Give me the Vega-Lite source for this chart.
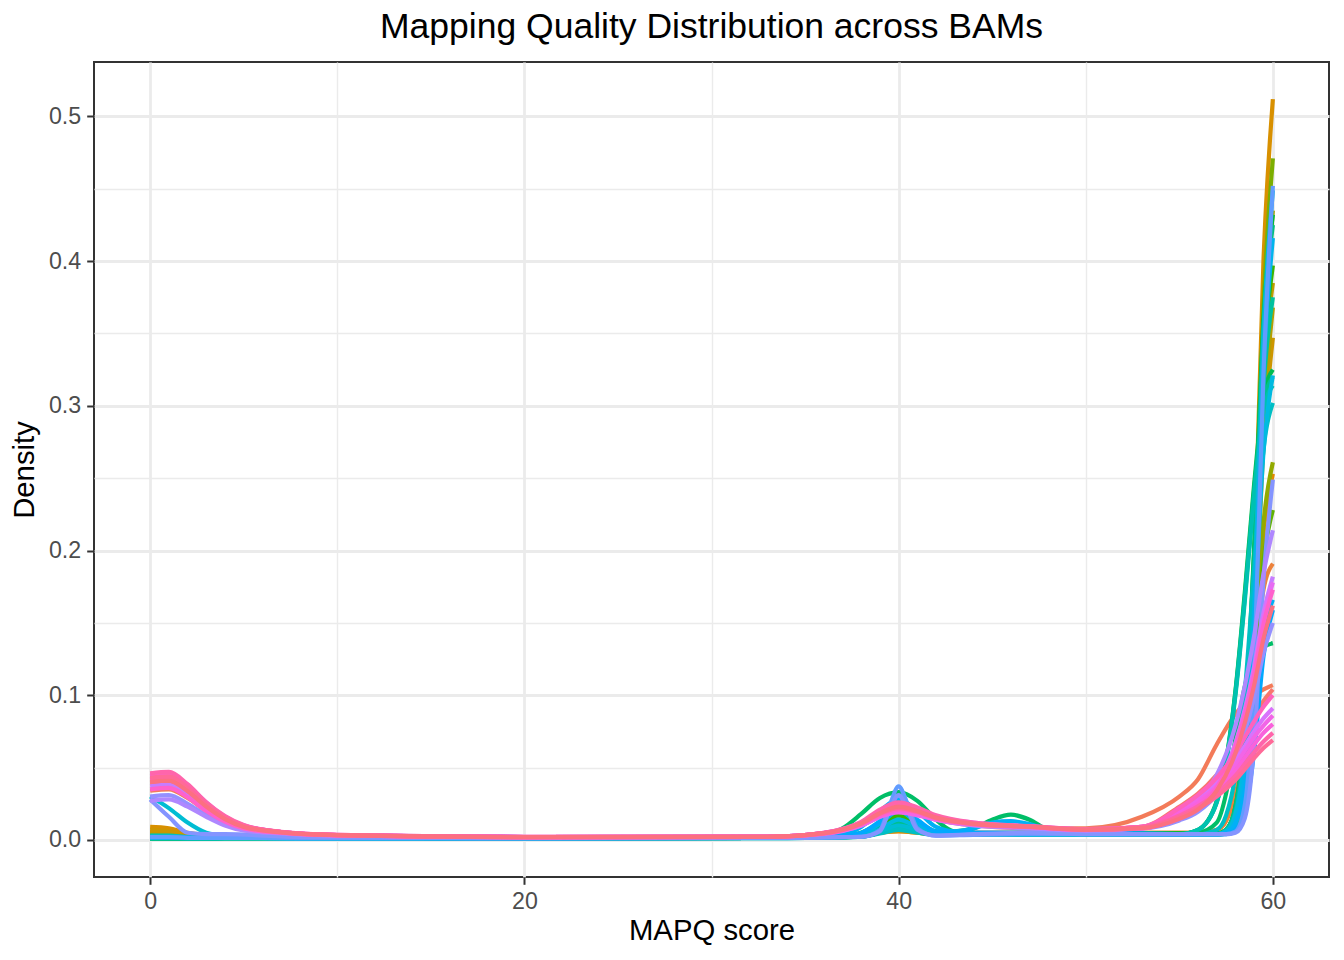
{
  "$schema": "https://vega.github.io/schema/vega-lite/v6.json",
  "width": 1235,
  "height": 815,
  "autosize": {"type": "none"},
  "padding": {"left": 94, "top": 62, "right": 15, "bottom": 83},
  "background": "white",
  "title": {
    "text": "Mapping Quality Distribution across BAMs",
    "font": "Liberation Sans",
    "fontSize": 35.5,
    "fontWeight": "normal",
    "color": "black",
    "anchor": "middle",
    "frame": "group",
    "baseline": "alphabetic",
    "offset": -11
  },
  "config": {
    "font": "Liberation Sans",
    "view": {"stroke": "#333333", "strokeWidth": 2}
  },
  "data": {
    "values": [
      {"s":"B01","x":0,"y":0.039},{"s":"B01","x":1,"y":0.04},{"s":"B01","x":2,"y":0.033},{"s":"B01","x":3,"y":0.022},{"s":"B01","x":4,"y":0.014},{"s":"B01","x":5,"y":0.009},{"s":"B01","x":7,"y":0.005},{"s":"B01","x":10,"y":0.0032},{"s":"B01","x":20,"y":0.002},{"s":"B01","x":33,"y":0.0022},{"s":"B01","x":36,"y":0.0045},{"s":"B01","x":38,"y":0.011},{"s":"B01","x":39,"y":0.018},{"s":"B01","x":40,"y":0.022},{"s":"B01","x":41,"y":0.019},{"s":"B01","x":42,"y":0.015},{"s":"B01","x":44,"y":0.011},{"s":"B01","x":47,"y":0.009},{"s":"B01","x":50,"y":0.007},{"s":"B01","x":53,"y":0.009},{"s":"B01","x":55,"y":0.023},{"s":"B01","x":56,"y":0.032},{"s":"B01","x":57,"y":0.045},{"s":"B01","x":58,"y":0.062},{"s":"B01","x":59,"y":0.085},{"s":"B01","x":59.5,"y":0.096},{"s":"B01","x":60,"y":0.104},

      {"s":"B02","x":0,"y":0.034},{"s":"B02","x":1,"y":0.035},{"s":"B02","x":2,"y":0.029},{"s":"B02","x":3,"y":0.02},{"s":"B02","x":4,"y":0.012},{"s":"B02","x":5,"y":0.008},{"s":"B02","x":7,"y":0.005},{"s":"B02","x":10,"y":0.003},{"s":"B02","x":20,"y":0.002},{"s":"B02","x":33,"y":0.002},{"s":"B02","x":36,"y":0.004},{"s":"B02","x":38,"y":0.01},{"s":"B02","x":39,"y":0.016},{"s":"B02","x":40,"y":0.02},{"s":"B02","x":41,"y":0.018},{"s":"B02","x":42,"y":0.014},{"s":"B02","x":44,"y":0.01},{"s":"B02","x":47,"y":0.008},{"s":"B02","x":50,"y":0.008},{"s":"B02","x":53,"y":0.016},{"s":"B02","x":55,"y":0.03},{"s":"B02","x":56,"y":0.042},{"s":"B02","x":57,"y":0.066},{"s":"B02","x":58,"y":0.087},{"s":"B02","x":59,"y":0.1},{"s":"B02","x":59.5,"y":0.104},{"s":"B02","x":60,"y":0.107},

      {"s":"B03","x":0,"y":0.006},{"s":"B03","x":1,"y":0.0055},{"s":"B03","x":2,"y":0.0035},{"s":"B03","x":4,"y":0.0025},{"s":"B03","x":8,"y":0.002},{"s":"B03","x":20,"y":0.0015},{"s":"B03","x":33,"y":0.0015},{"s":"B03","x":37,"y":0.003},{"s":"B03","x":38,"y":0.004},{"s":"B03","x":39,"y":0.005},{"s":"B03","x":40,"y":0.006},{"s":"B03","x":41,"y":0.006},{"s":"B03","x":42,"y":0.005},{"s":"B03","x":44,"y":0.005},{"s":"B03","x":47,"y":0.005},{"s":"B03","x":50,"y":0.005},{"s":"B03","x":55,"y":0.005},{"s":"B03","x":56,"y":0.005},{"s":"B03","x":57,"y":0.007},{"s":"B03","x":57.5,"y":0.013},{"s":"B03","x":58,"y":0.031},{"s":"B03","x":58.5,"y":0.067},{"s":"B03","x":59,"y":0.121},{"s":"B03","x":59.5,"y":0.173},{"s":"B03","x":60,"y":0.191},

      {"s":"B04","x":0,"y":0.005},{"s":"B04","x":1,"y":0.0045},{"s":"B04","x":2,"y":0.003},{"s":"B04","x":4,"y":0.002},{"s":"B04","x":8,"y":0.002},{"s":"B04","x":20,"y":0.0015},{"s":"B04","x":33,"y":0.0015},{"s":"B04","x":37,"y":0.0025},{"s":"B04","x":38,"y":0.003},{"s":"B04","x":39,"y":0.005},{"s":"B04","x":40,"y":0.006},{"s":"B04","x":41,"y":0.005},{"s":"B04","x":42,"y":0.004},{"s":"B04","x":44,"y":0.004},{"s":"B04","x":47,"y":0.004},{"s":"B04","x":50,"y":0.004},{"s":"B04","x":55,"y":0.004},{"s":"B04","x":56,"y":0.004},{"s":"B04","x":57,"y":0.004},{"s":"B04","x":57.5,"y":0.006},{"s":"B04","x":58,"y":0.015},{"s":"B04","x":58.5,"y":0.047},{"s":"B04","x":59,"y":0.12},{"s":"B04","x":59.5,"y":0.212},{"s":"B04","x":60,"y":0.253},

      {"s":"B05","x":0,"y":0.009},{"s":"B05","x":1,"y":0.008},{"s":"B05","x":2,"y":0.005},{"s":"B05","x":4,"y":0.003},{"s":"B05","x":8,"y":0.002},{"s":"B05","x":20,"y":0.0015},{"s":"B05","x":33,"y":0.0015},{"s":"B05","x":37,"y":0.0025},{"s":"B05","x":38,"y":0.003},{"s":"B05","x":39,"y":0.005},{"s":"B05","x":40,"y":0.006},{"s":"B05","x":41,"y":0.005},{"s":"B05","x":42,"y":0.004},{"s":"B05","x":44,"y":0.004},{"s":"B05","x":47,"y":0.004},{"s":"B05","x":50,"y":0.004},{"s":"B05","x":55,"y":0.004},{"s":"B05","x":56,"y":0.004},{"s":"B05","x":57,"y":0.004},{"s":"B05","x":57.5,"y":0.005},{"s":"B05","x":58,"y":0.013},{"s":"B05","x":58.5,"y":0.055},{"s":"B05","x":59,"y":0.188},{"s":"B05","x":59.5,"y":0.401},{"s":"B05","x":60,"y":0.512},

      {"s":"B06","x":0,"y":0.007},{"s":"B06","x":1,"y":0.006},{"s":"B06","x":2,"y":0.004},{"s":"B06","x":4,"y":0.0025},{"s":"B06","x":8,"y":0.002},{"s":"B06","x":20,"y":0.0015},{"s":"B06","x":33,"y":0.0015},{"s":"B06","x":37,"y":0.0025},{"s":"B06","x":38,"y":0.0028},{"s":"B06","x":39,"y":0.005},{"s":"B06","x":40,"y":0.008},{"s":"B06","x":41,"y":0.006},{"s":"B06","x":42,"y":0.004},{"s":"B06","x":44,"y":0.004},{"s":"B06","x":47,"y":0.004},{"s":"B06","x":50,"y":0.004},{"s":"B06","x":55,"y":0.004},{"s":"B06","x":56,"y":0.004},{"s":"B06","x":57,"y":0.004},{"s":"B06","x":57.5,"y":0.005},{"s":"B06","x":58,"y":0.01},{"s":"B06","x":58.5,"y":0.039},{"s":"B06","x":59,"y":0.129},{"s":"B06","x":59.5,"y":0.273},{"s":"B06","x":60,"y":0.347},

      {"s":"B07","x":0,"y":0.004},{"s":"B07","x":1,"y":0.0035},{"s":"B07","x":2,"y":0.0025},{"s":"B07","x":4,"y":0.002},{"s":"B07","x":8,"y":0.002},{"s":"B07","x":20,"y":0.0015},{"s":"B07","x":33,"y":0.0015},{"s":"B07","x":37,"y":0.0022},{"s":"B07","x":38,"y":0.0025},{"s":"B07","x":39,"y":0.006},{"s":"B07","x":40,"y":0.01},{"s":"B07","x":41,"y":0.007},{"s":"B07","x":42,"y":0.004},{"s":"B07","x":44,"y":0.004},{"s":"B07","x":47,"y":0.004},{"s":"B07","x":50,"y":0.004},{"s":"B07","x":55,"y":0.004},{"s":"B07","x":56,"y":0.004},{"s":"B07","x":57,"y":0.004},{"s":"B07","x":57.5,"y":0.007},{"s":"B07","x":58,"y":0.021},{"s":"B07","x":58.5,"y":0.07},{"s":"B07","x":59,"y":0.18},{"s":"B07","x":59.5,"y":0.321},{"s":"B07","x":60,"y":0.385},

      {"s":"B08","x":0,"y":0.003},{"s":"B08","x":1,"y":0.003},{"s":"B08","x":2,"y":0.002},{"s":"B08","x":4,"y":0.002},{"s":"B08","x":8,"y":0.0018},{"s":"B08","x":20,"y":0.0015},{"s":"B08","x":33,"y":0.0015},{"s":"B08","x":37,"y":0.002},{"s":"B08","x":38,"y":0.0025},{"s":"B08","x":39,"y":0.0055},{"s":"B08","x":40,"y":0.009},{"s":"B08","x":41,"y":0.0065},{"s":"B08","x":42,"y":0.0045},{"s":"B08","x":44,"y":0.004},{"s":"B08","x":47,"y":0.004},{"s":"B08","x":50,"y":0.004},{"s":"B08","x":55,"y":0.004},{"s":"B08","x":56,"y":0.004},{"s":"B08","x":57,"y":0.004},{"s":"B08","x":57.5,"y":0.005},{"s":"B08","x":58,"y":0.01},{"s":"B08","x":58.5,"y":0.041},{"s":"B08","x":59,"y":0.136},{"s":"B08","x":59.5,"y":0.289},{"s":"B08","x":60,"y":0.368},

      {"s":"B09","x":0,"y":0.002},{"s":"B09","x":1,"y":0.002},{"s":"B09","x":2,"y":0.0015},{"s":"B09","x":4,"y":0.0015},{"s":"B09","x":8,"y":0.0015},{"s":"B09","x":20,"y":0.0012},{"s":"B09","x":33,"y":0.0015},{"s":"B09","x":37,"y":0.002},{"s":"B09","x":38,"y":0.0025},{"s":"B09","x":39,"y":0.007},{"s":"B09","x":40,"y":0.012},{"s":"B09","x":41,"y":0.008},{"s":"B09","x":42,"y":0.0045},{"s":"B09","x":44,"y":0.004},{"s":"B09","x":47,"y":0.004},{"s":"B09","x":50,"y":0.004},{"s":"B09","x":55,"y":0.004},{"s":"B09","x":56,"y":0.004},{"s":"B09","x":57,"y":0.004},{"s":"B09","x":57.5,"y":0.005},{"s":"B09","x":58,"y":0.011},{"s":"B09","x":58.5,"y":0.048},{"s":"B09","x":59,"y":0.161},{"s":"B09","x":59.5,"y":0.341},{"s":"B09","x":60,"y":0.435},

      {"s":"B10","x":0,"y":0.003},{"s":"B10","x":1,"y":0.0028},{"s":"B10","x":2,"y":0.002},{"s":"B10","x":4,"y":0.0018},{"s":"B10","x":8,"y":0.0017},{"s":"B10","x":20,"y":0.0014},{"s":"B10","x":33,"y":0.0015},{"s":"B10","x":37,"y":0.0022},{"s":"B10","x":38,"y":0.0027},{"s":"B10","x":39,"y":0.006},{"s":"B10","x":40,"y":0.01},{"s":"B10","x":41,"y":0.0072},{"s":"B10","x":42,"y":0.0045},{"s":"B10","x":44,"y":0.0045},{"s":"B10","x":47,"y":0.0045},{"s":"B10","x":50,"y":0.0045},{"s":"B10","x":55,"y":0.0045},{"s":"B10","x":56,"y":0.0045},{"s":"B10","x":57,"y":0.0045},{"s":"B10","x":57.5,"y":0.006},{"s":"B10","x":58,"y":0.016},{"s":"B10","x":58.5,"y":0.049},{"s":"B10","x":59,"y":0.124},{"s":"B10","x":59.5,"y":0.219},{"s":"B10","x":60,"y":0.261},

      {"s":"B11","x":0,"y":0.0025},{"s":"B11","x":1,"y":0.0022},{"s":"B11","x":2,"y":0.0016},{"s":"B11","x":4,"y":0.0015},{"s":"B11","x":8,"y":0.0015},{"s":"B11","x":20,"y":0.0013},{"s":"B11","x":33,"y":0.0014},{"s":"B11","x":37,"y":0.002},{"s":"B11","x":38,"y":0.0023},{"s":"B11","x":39,"y":0.005},{"s":"B11","x":40,"y":0.008},{"s":"B11","x":41,"y":0.006},{"s":"B11","x":42,"y":0.004},{"s":"B11","x":44,"y":0.004},{"s":"B11","x":47,"y":0.004},{"s":"B11","x":50,"y":0.004},{"s":"B11","x":55,"y":0.004},{"s":"B11","x":56,"y":0.004},{"s":"B11","x":57,"y":0.004},{"s":"B11","x":57.5,"y":0.005},{"s":"B11","x":58,"y":0.012},{"s":"B11","x":58.5,"y":0.051},{"s":"B11","x":59,"y":0.174},{"s":"B11","x":59.5,"y":0.369},{"s":"B11","x":60,"y":0.471},

      {"s":"B12","x":0,"y":0.002},{"s":"B12","x":1,"y":0.002},{"s":"B12","x":2,"y":0.0016},{"s":"B12","x":4,"y":0.0015},{"s":"B12","x":8,"y":0.0015},{"s":"B12","x":20,"y":0.0013},{"s":"B12","x":33,"y":0.0015},{"s":"B12","x":37,"y":0.0022},{"s":"B12","x":38,"y":0.003},{"s":"B12","x":39,"y":0.0075},{"s":"B12","x":40,"y":0.014},{"s":"B12","x":41,"y":0.0085},{"s":"B12","x":42,"y":0.0045},{"s":"B12","x":44,"y":0.0045},{"s":"B12","x":47,"y":0.0045},{"s":"B12","x":50,"y":0.0045},{"s":"B12","x":55,"y":0.0045},{"s":"B12","x":56,"y":0.0045},{"s":"B12","x":57,"y":0.0045},{"s":"B12","x":57.5,"y":0.006},{"s":"B12","x":58,"y":0.014},{"s":"B12","x":58.5,"y":0.043},{"s":"B12","x":59,"y":0.108},{"s":"B12","x":59.5,"y":0.192},{"s":"B12","x":60,"y":0.228},

      {"s":"B13","x":0,"y":0.0015},{"s":"B13","x":1,"y":0.0015},{"s":"B13","x":2,"y":0.0014},{"s":"B13","x":4,"y":0.0014},{"s":"B13","x":8,"y":0.0015},{"s":"B13","x":20,"y":0.0013},{"s":"B13","x":33,"y":0.0015},{"s":"B13","x":37,"y":0.0025},{"s":"B13","x":38,"y":0.0035},{"s":"B13","x":39,"y":0.009},{"s":"B13","x":40,"y":0.017},{"s":"B13","x":41,"y":0.01},{"s":"B13","x":42,"y":0.005},{"s":"B13","x":44,"y":0.0045},{"s":"B13","x":47,"y":0.0045},{"s":"B13","x":50,"y":0.0045},{"s":"B13","x":55,"y":0.0045},{"s":"B13","x":56,"y":0.0045},{"s":"B13","x":57,"y":0.0045},{"s":"B13","x":57.5,"y":0.007},{"s":"B13","x":58,"y":0.021},{"s":"B13","x":58.5,"y":0.072},{"s":"B13","x":59,"y":0.186},{"s":"B13","x":59.5,"y":0.331},{"s":"B13","x":60,"y":0.397},

      {"s":"B14","x":0,"y":0.001},{"s":"B14","x":1,"y":0.001},{"s":"B14","x":2,"y":0.001},{"s":"B14","x":4,"y":0.0012},{"s":"B14","x":8,"y":0.0014},{"s":"B14","x":20,"y":0.0013},{"s":"B14","x":33,"y":0.0015},{"s":"B14","x":37,"y":0.003},{"s":"B14","x":38,"y":0.005},{"s":"B14","x":39,"y":0.012},{"s":"B14","x":40,"y":0.022},{"s":"B14","x":41,"y":0.013},{"s":"B14","x":42,"y":0.006},{"s":"B14","x":44,"y":0.0045},{"s":"B14","x":47,"y":0.0045},{"s":"B14","x":50,"y":0.0045},{"s":"B14","x":55,"y":0.0045},{"s":"B14","x":56,"y":0.0045},{"s":"B14","x":57,"y":0.0045},{"s":"B14","x":57.5,"y":0.007},{"s":"B14","x":58,"y":0.023},{"s":"B14","x":58.5,"y":0.078},{"s":"B14","x":59,"y":0.202},{"s":"B14","x":59.5,"y":0.36},{"s":"B14","x":60,"y":0.432},

      {"s":"B15","x":0,"y":0.001},{"s":"B15","x":1,"y":0.001},{"s":"B15","x":2,"y":0.001},{"s":"B15","x":4,"y":0.0012},{"s":"B15","x":8,"y":0.0014},{"s":"B15","x":20,"y":0.0013},{"s":"B15","x":33,"y":0.0015},{"s":"B15","x":37,"y":0.003},{"s":"B15","x":38,"y":0.004},{"s":"B15","x":39,"y":0.008},{"s":"B15","x":40,"y":0.014},{"s":"B15","x":41,"y":0.009},{"s":"B15","x":42,"y":0.005},{"s":"B15","x":44,"y":0.004},{"s":"B15","x":47,"y":0.004},{"s":"B15","x":50,"y":0.004},{"s":"B15","x":55,"y":0.004},{"s":"B15","x":56,"y":0.007},{"s":"B15","x":57,"y":0.027},{"s":"B15","x":57.5,"y":0.055},{"s":"B15","x":58,"y":0.103},{"s":"B15","x":58.5,"y":0.171},{"s":"B15","x":59,"y":0.246},{"s":"B15","x":59.5,"y":0.306},{"s":"B15","x":60,"y":0.325},

      {"s":"B16","x":0,"y":0.001},{"s":"B16","x":1,"y":0.001},{"s":"B16","x":2,"y":0.001},{"s":"B16","x":4,"y":0.0012},{"s":"B16","x":8,"y":0.0014},{"s":"B16","x":20,"y":0.0013},{"s":"B16","x":33,"y":0.0016},{"s":"B16","x":36,"y":0.003},{"s":"B16","x":37,"y":0.008},{"s":"B16","x":38,"y":0.018},{"s":"B16","x":39,"y":0.029},{"s":"B16","x":40,"y":0.033},{"s":"B16","x":41,"y":0.027},{"s":"B16","x":42,"y":0.014},{"s":"B16","x":43,"y":0.006},{"s":"B16","x":44,"y":0.008},{"s":"B16","x":45,"y":0.014},{"s":"B16","x":46,"y":0.0175},{"s":"B16","x":47,"y":0.014},{"s":"B16","x":48,"y":0.007},{"s":"B16","x":50,"y":0.004},{"s":"B16","x":55,"y":0.004},{"s":"B16","x":56,"y":0.005},{"s":"B16","x":57,"y":0.012},{"s":"B16","x":57.5,"y":0.032},{"s":"B16","x":58,"y":0.07},{"s":"B16","x":58.5,"y":0.106},{"s":"B16","x":59,"y":0.125},{"s":"B16","x":59.5,"y":0.133},{"s":"B16","x":60,"y":0.136},

      {"s":"B17","x":0,"y":0.001},{"s":"B17","x":1,"y":0.001},{"s":"B17","x":2,"y":0.001},{"s":"B17","x":4,"y":0.0012},{"s":"B17","x":8,"y":0.0014},{"s":"B17","x":20,"y":0.0013},{"s":"B17","x":33,"y":0.0015},{"s":"B17","x":37,"y":0.002},{"s":"B17","x":38,"y":0.0025},{"s":"B17","x":39,"y":0.007},{"s":"B17","x":40,"y":0.012},{"s":"B17","x":41,"y":0.008},{"s":"B17","x":42,"y":0.0045},{"s":"B17","x":44,"y":0.004},{"s":"B17","x":47,"y":0.004},{"s":"B17","x":50,"y":0.004},{"s":"B17","x":55,"y":0.004},{"s":"B17","x":56,"y":0.004},{"s":"B17","x":57,"y":0.004},{"s":"B17","x":57.5,"y":0.007},{"s":"B17","x":58,"y":0.023},{"s":"B17","x":58.5,"y":0.077},{"s":"B17","x":59,"y":0.199},{"s":"B17","x":59.5,"y":0.354},{"s":"B17","x":60,"y":0.425},

      {"s":"B18","x":0,"y":0.0012},{"s":"B18","x":1,"y":0.0012},{"s":"B18","x":2,"y":0.0011},{"s":"B18","x":4,"y":0.0012},{"s":"B18","x":8,"y":0.0013},{"s":"B18","x":20,"y":0.0012},{"s":"B18","x":33,"y":0.0014},{"s":"B18","x":37,"y":0.002},{"s":"B18","x":38,"y":0.0025},{"s":"B18","x":39,"y":0.0065},{"s":"B18","x":40,"y":0.011},{"s":"B18","x":41,"y":0.0075},{"s":"B18","x":42,"y":0.0045},{"s":"B18","x":44,"y":0.004},{"s":"B18","x":47,"y":0.004},{"s":"B18","x":50,"y":0.004},{"s":"B18","x":55,"y":0.004},{"s":"B18","x":56,"y":0.007},{"s":"B18","x":57,"y":0.026},{"s":"B18","x":57.5,"y":0.054},{"s":"B18","x":58,"y":0.102},{"s":"B18","x":58.5,"y":0.168},{"s":"B18","x":59,"y":0.242},{"s":"B18","x":59.5,"y":0.301},{"s":"B18","x":60,"y":0.32},

      {"s":"B19","x":0,"y":0.001},{"s":"B19","x":1,"y":0.001},{"s":"B19","x":2,"y":0.001},{"s":"B19","x":4,"y":0.0012},{"s":"B19","x":8,"y":0.0013},{"s":"B19","x":20,"y":0.0012},{"s":"B19","x":33,"y":0.0014},{"s":"B19","x":37,"y":0.002},{"s":"B19","x":38,"y":0.0025},{"s":"B19","x":39,"y":0.0055},{"s":"B19","x":40,"y":0.009},{"s":"B19","x":41,"y":0.0065},{"s":"B19","x":42,"y":0.0045},{"s":"B19","x":44,"y":0.004},{"s":"B19","x":47,"y":0.004},{"s":"B19","x":50,"y":0.004},{"s":"B19","x":55,"y":0.004},{"s":"B19","x":56,"y":0.004},{"s":"B19","x":57,"y":0.004},{"s":"B19","x":57.5,"y":0.007},{"s":"B19","x":58,"y":0.02},{"s":"B19","x":58.5,"y":0.068},{"s":"B19","x":59,"y":0.176},{"s":"B19","x":59.5,"y":0.313},{"s":"B19","x":60,"y":0.375},

      {"s":"B20","x":0,"y":0.0015},{"s":"B20","x":1,"y":0.0015},{"s":"B20","x":2,"y":0.0013},{"s":"B20","x":4,"y":0.0013},{"s":"B20","x":8,"y":0.0013},{"s":"B20","x":20,"y":0.0012},{"s":"B20","x":33,"y":0.0014},{"s":"B20","x":37,"y":0.002},{"s":"B20","x":38,"y":0.0023},{"s":"B20","x":39,"y":0.005},{"s":"B20","x":40,"y":0.008},{"s":"B20","x":41,"y":0.006},{"s":"B20","x":42,"y":0.004},{"s":"B20","x":44,"y":0.0035},{"s":"B20","x":47,"y":0.0035},{"s":"B20","x":50,"y":0.0035},{"s":"B20","x":55,"y":0.004},{"s":"B20","x":56,"y":0.007},{"s":"B20","x":57,"y":0.026},{"s":"B20","x":57.5,"y":0.053},{"s":"B20","x":58,"y":0.1},{"s":"B20","x":58.5,"y":0.165},{"s":"B20","x":59,"y":0.238},{"s":"B20","x":59.5,"y":0.296},{"s":"B20","x":60,"y":0.314},

      {"s":"B21","x":0,"y":0.003},{"s":"B21","x":1,"y":0.003},{"s":"B21","x":2,"y":0.002},{"s":"B21","x":4,"y":0.0015},{"s":"B21","x":8,"y":0.0013},{"s":"B21","x":20,"y":0.0012},{"s":"B21","x":33,"y":0.0013},{"s":"B21","x":37,"y":0.0018},{"s":"B21","x":38,"y":0.0022},{"s":"B21","x":39,"y":0.0045},{"s":"B21","x":40,"y":0.007},{"s":"B21","x":41,"y":0.005},{"s":"B21","x":42,"y":0.0035},{"s":"B21","x":44,"y":0.0035},{"s":"B21","x":47,"y":0.0035},{"s":"B21","x":50,"y":0.0035},{"s":"B21","x":55,"y":0.004},{"s":"B21","x":56,"y":0.004},{"s":"B21","x":57,"y":0.007},{"s":"B21","x":57.5,"y":0.017},{"s":"B21","x":58,"y":0.045},{"s":"B21","x":58.5,"y":0.102},{"s":"B21","x":59,"y":0.187},{"s":"B21","x":59.5,"y":0.27},{"s":"B21","x":60,"y":0.302},

      {"s":"B22","x":0,"y":0.03},{"s":"B22","x":1,"y":0.022},{"s":"B22","x":2,"y":0.012},{"s":"B22","x":3,"y":0.005},{"s":"B22","x":4,"y":0.003},{"s":"B22","x":8,"y":0.0015},{"s":"B22","x":20,"y":0.0012},{"s":"B22","x":33,"y":0.0013},{"s":"B22","x":37,"y":0.0018},{"s":"B22","x":38,"y":0.0022},{"s":"B22","x":39,"y":0.006},{"s":"B22","x":40,"y":0.01},{"s":"B22","x":41,"y":0.007},{"s":"B22","x":42,"y":0.004},{"s":"B22","x":44,"y":0.0035},{"s":"B22","x":47,"y":0.0035},{"s":"B22","x":50,"y":0.0035},{"s":"B22","x":55,"y":0.0035},{"s":"B22","x":56,"y":0.0035},{"s":"B22","x":57,"y":0.0035},{"s":"B22","x":57.5,"y":0.0045},{"s":"B22","x":58,"y":0.012},{"s":"B22","x":58.5,"y":0.049},{"s":"B22","x":59,"y":0.166},{"s":"B22","x":59.5,"y":0.352},{"s":"B22","x":60,"y":0.449},

      {"s":"B23","x":0,"y":0.0015},{"s":"B23","x":1,"y":0.0015},{"s":"B23","x":2,"y":0.0013},{"s":"B23","x":4,"y":0.0013},{"s":"B23","x":8,"y":0.0013},{"s":"B23","x":20,"y":0.0012},{"s":"B23","x":33,"y":0.0014},{"s":"B23","x":37,"y":0.0022},{"s":"B23","x":38,"y":0.003},{"s":"B23","x":39,"y":0.0075},{"s":"B23","x":40,"y":0.014},{"s":"B23","x":41,"y":0.009},{"s":"B23","x":42,"y":0.0045},{"s":"B23","x":44,"y":0.004},{"s":"B23","x":47,"y":0.004},{"s":"B23","x":50,"y":0.004},{"s":"B23","x":55,"y":0.004},{"s":"B23","x":56,"y":0.004},{"s":"B23","x":57,"y":0.004},{"s":"B23","x":57.5,"y":0.006},{"s":"B23","x":58,"y":0.018},{"s":"B23","x":58.5,"y":0.059},{"s":"B23","x":59,"y":0.151},{"s":"B23","x":59.5,"y":0.268},{"s":"B23","x":60,"y":0.321},

      {"s":"B24","x":0,"y":0.002},{"s":"B24","x":1,"y":0.002},{"s":"B24","x":2,"y":0.0015},{"s":"B24","x":4,"y":0.0014},{"s":"B24","x":8,"y":0.0013},{"s":"B24","x":20,"y":0.0012},{"s":"B24","x":33,"y":0.0014},{"s":"B24","x":37,"y":0.0025},{"s":"B24","x":38,"y":0.0045},{"s":"B24","x":39,"y":0.011},{"s":"B24","x":40,"y":0.02},{"s":"B24","x":41,"y":0.012},{"s":"B24","x":42,"y":0.0055},{"s":"B24","x":44,"y":0.0045},{"s":"B24","x":47,"y":0.0045},{"s":"B24","x":50,"y":0.0045},{"s":"B24","x":55,"y":0.004},{"s":"B24","x":56,"y":0.004},{"s":"B24","x":57,"y":0.004},{"s":"B24","x":57.5,"y":0.0045},{"s":"B24","x":58,"y":0.011},{"s":"B24","x":58.5,"y":0.046},{"s":"B24","x":59,"y":0.154},{"s":"B24","x":59.5,"y":0.326},{"s":"B24","x":60,"y":0.416},

      {"s":"B25","x":0,"y":0.002},{"s":"B25","x":1,"y":0.002},{"s":"B25","x":2,"y":0.0015},{"s":"B25","x":4,"y":0.0014},{"s":"B25","x":8,"y":0.0013},{"s":"B25","x":20,"y":0.0012},{"s":"B25","x":33,"y":0.0014},{"s":"B25","x":37,"y":0.004},{"s":"B25","x":38,"y":0.009},{"s":"B25","x":39,"y":0.02},{"s":"B25","x":40,"y":0.028},{"s":"B25","x":41,"y":0.02},{"s":"B25","x":42,"y":0.009},{"s":"B25","x":43,"y":0.006},{"s":"B25","x":44,"y":0.008},{"s":"B25","x":45,"y":0.012},{"s":"B25","x":46,"y":0.013},{"s":"B25","x":47,"y":0.011},{"s":"B25","x":48,"y":0.007},{"s":"B25","x":50,"y":0.005},{"s":"B25","x":55,"y":0.004},{"s":"B25","x":56,"y":0.004},{"s":"B25","x":57,"y":0.004},{"s":"B25","x":57.5,"y":0.005},{"s":"B25","x":58,"y":0.012},{"s":"B25","x":58.5,"y":0.033},{"s":"B25","x":59,"y":0.08},{"s":"B25","x":59.5,"y":0.141},{"s":"B25","x":60,"y":0.166},

      {"s":"B26","x":0,"y":0.002},{"s":"B26","x":1,"y":0.002},{"s":"B26","x":2,"y":0.0015},{"s":"B26","x":4,"y":0.0014},{"s":"B26","x":8,"y":0.0013},{"s":"B26","x":20,"y":0.0012},{"s":"B26","x":33,"y":0.0014},{"s":"B26","x":37,"y":0.003},{"s":"B26","x":38,"y":0.005},{"s":"B26","x":39,"y":0.013},{"s":"B26","x":40,"y":0.022},{"s":"B26","x":41,"y":0.014},{"s":"B26","x":42,"y":0.006},{"s":"B26","x":44,"y":0.005},{"s":"B26","x":47,"y":0.005},{"s":"B26","x":50,"y":0.005},{"s":"B26","x":55,"y":0.004},{"s":"B26","x":56,"y":0.004},{"s":"B26","x":57,"y":0.004},{"s":"B26","x":57.5,"y":0.004},{"s":"B26","x":58,"y":0.007},{"s":"B26","x":58.5,"y":0.02},{"s":"B26","x":59,"y":0.061},{"s":"B26","x":59.5,"y":0.127},{"s":"B26","x":60,"y":0.159},

      {"s":"B27","x":0,"y":0.002},{"s":"B27","x":1,"y":0.002},{"s":"B27","x":2,"y":0.0015},{"s":"B27","x":4,"y":0.0014},{"s":"B27","x":8,"y":0.0013},{"s":"B27","x":20,"y":0.0012},{"s":"B27","x":33,"y":0.0014},{"s":"B27","x":37,"y":0.002},{"s":"B27","x":38,"y":0.0022},{"s":"B27","x":39,"y":0.0067},{"s":"B27","x":39.5,"y":0.023},{"s":"B27","x":40,"y":0.037},{"s":"B27","x":40.5,"y":0.024},{"s":"B27","x":41,"y":0.008},{"s":"B27","x":42,"y":0.003},{"s":"B27","x":44,"y":0.0035},{"s":"B27","x":47,"y":0.004},{"s":"B27","x":50,"y":0.004},{"s":"B27","x":55,"y":0.004},{"s":"B27","x":56,"y":0.004},{"s":"B27","x":57,"y":0.004},{"s":"B27","x":57.5,"y":0.004},{"s":"B27","x":58,"y":0.0058},{"s":"B27","x":58.5,"y":0.024},{"s":"B27","x":59,"y":0.116},{"s":"B27","x":59.5,"y":0.323},{"s":"B27","x":60,"y":0.452},

      {"s":"B28","x":0,"y":0.028},{"s":"B28","x":1,"y":0.016},{"s":"B28","x":2,"y":0.005},{"s":"B28","x":3,"y":0.004},{"s":"B28","x":4,"y":0.004},{"s":"B28","x":8,"y":0.002},{"s":"B28","x":20,"y":0.0013},{"s":"B28","x":33,"y":0.0014},{"s":"B28","x":37,"y":0.002},{"s":"B28","x":38,"y":0.0022},{"s":"B28","x":39,"y":0.006},{"s":"B28","x":39.5,"y":0.02},{"s":"B28","x":40,"y":0.031},{"s":"B28","x":40.5,"y":0.02},{"s":"B28","x":41,"y":0.007},{"s":"B28","x":42,"y":0.003},{"s":"B28","x":44,"y":0.004},{"s":"B28","x":47,"y":0.005},{"s":"B28","x":50,"y":0.004},{"s":"B28","x":55,"y":0.004},{"s":"B28","x":56,"y":0.004},{"s":"B28","x":57,"y":0.004},{"s":"B28","x":57.5,"y":0.004},{"s":"B28","x":58,"y":0.005},{"s":"B28","x":58.5,"y":0.015},{"s":"B28","x":59,"y":0.066},{"s":"B28","x":59.5,"y":0.18},{"s":"B28","x":60,"y":0.249},

      {"s":"B29","x":0,"y":0.03},{"s":"B29","x":1,"y":0.031},{"s":"B29","x":2,"y":0.025},{"s":"B29","x":3,"y":0.017},{"s":"B29","x":4,"y":0.011},{"s":"B29","x":5,"y":0.007},{"s":"B29","x":7,"y":0.0045},{"s":"B29","x":10,"y":0.003},{"s":"B29","x":20,"y":0.002},{"s":"B29","x":33,"y":0.0022},{"s":"B29","x":36,"y":0.0045},{"s":"B29","x":38,"y":0.011},{"s":"B29","x":39,"y":0.018},{"s":"B29","x":40,"y":0.022},{"s":"B29","x":41,"y":0.019},{"s":"B29","x":42,"y":0.015},{"s":"B29","x":44,"y":0.011},{"s":"B29","x":47,"y":0.009},{"s":"B29","x":50,"y":0.007},{"s":"B29","x":53,"y":0.008},{"s":"B29","x":55,"y":0.0135},{"s":"B29","x":56,"y":0.0195},{"s":"B29","x":57,"y":0.0315},{"s":"B29","x":58,"y":0.0555},{"s":"B29","x":59,"y":0.099},{"s":"B29","x":59.5,"y":0.129},{"s":"B29","x":60,"y":0.15},

      {"s":"B30","x":0,"y":0.027},{"s":"B30","x":1,"y":0.028},{"s":"B30","x":2,"y":0.023},{"s":"B30","x":3,"y":0.016},{"s":"B30","x":4,"y":0.01},{"s":"B30","x":5,"y":0.0065},{"s":"B30","x":7,"y":0.0045},{"s":"B30","x":10,"y":0.003},{"s":"B30","x":20,"y":0.002},{"s":"B30","x":33,"y":0.0022},{"s":"B30","x":36,"y":0.0045},{"s":"B30","x":38,"y":0.01},{"s":"B30","x":39,"y":0.016},{"s":"B30","x":40,"y":0.02},{"s":"B30","x":41,"y":0.018},{"s":"B30","x":42,"y":0.014},{"s":"B30","x":44,"y":0.01},{"s":"B30","x":47,"y":0.008},{"s":"B30","x":50,"y":0.0065},{"s":"B30","x":53,"y":0.008},{"s":"B30","x":55,"y":0.019},{"s":"B30","x":56,"y":0.028},{"s":"B30","x":57,"y":0.045},{"s":"B30","x":58,"y":0.079},{"s":"B30","x":59,"y":0.141},{"s":"B30","x":59.5,"y":0.184},{"s":"B30","x":60,"y":0.214},

      {"s":"B31","x":0,"y":0.037},{"s":"B31","x":1,"y":0.038},{"s":"B31","x":2,"y":0.031},{"s":"B31","x":3,"y":0.021},{"s":"B31","x":4,"y":0.013},{"s":"B31","x":5,"y":0.0085},{"s":"B31","x":7,"y":0.005},{"s":"B31","x":10,"y":0.0032},{"s":"B31","x":20,"y":0.002},{"s":"B31","x":33,"y":0.0022},{"s":"B31","x":36,"y":0.0048},{"s":"B31","x":38,"y":0.012},{"s":"B31","x":39,"y":0.019},{"s":"B31","x":40,"y":0.024},{"s":"B31","x":41,"y":0.021},{"s":"B31","x":42,"y":0.016},{"s":"B31","x":44,"y":0.011},{"s":"B31","x":47,"y":0.009},{"s":"B31","x":50,"y":0.007},{"s":"B31","x":53,"y":0.008},{"s":"B31","x":55,"y":0.0165},{"s":"B31","x":56,"y":0.024},{"s":"B31","x":57,"y":0.038},{"s":"B31","x":58,"y":0.067},{"s":"B31","x":59,"y":0.12},{"s":"B31","x":59.5,"y":0.157},{"s":"B31","x":60,"y":0.182},

      {"s":"B32","x":0,"y":0.043},{"s":"B32","x":1,"y":0.044},{"s":"B32","x":2,"y":0.036},{"s":"B32","x":3,"y":0.025},{"s":"B32","x":4,"y":0.015},{"s":"B32","x":5,"y":0.0097},{"s":"B32","x":7,"y":0.0055},{"s":"B32","x":10,"y":0.0034},{"s":"B32","x":20,"y":0.002},{"s":"B32","x":33,"y":0.0022},{"s":"B32","x":36,"y":0.0045},{"s":"B32","x":38,"y":0.011},{"s":"B32","x":39,"y":0.017},{"s":"B32","x":40,"y":0.021},{"s":"B32","x":41,"y":0.019},{"s":"B32","x":42,"y":0.015},{"s":"B32","x":44,"y":0.011},{"s":"B32","x":47,"y":0.009},{"s":"B32","x":50,"y":0.007},{"s":"B32","x":53,"y":0.009},{"s":"B32","x":55,"y":0.02},{"s":"B32","x":56,"y":0.028},{"s":"B32","x":57,"y":0.039},{"s":"B32","x":58,"y":0.055},{"s":"B32","x":59,"y":0.075},{"s":"B32","x":59.5,"y":0.084},{"s":"B32","x":60,"y":0.091},

      {"s":"B33","x":0,"y":0.045},{"s":"B33","x":1,"y":0.046},{"s":"B33","x":2,"y":0.038},{"s":"B33","x":3,"y":0.026},{"s":"B33","x":4,"y":0.016},{"s":"B33","x":5,"y":0.01},{"s":"B33","x":7,"y":0.0055},{"s":"B33","x":10,"y":0.0034},{"s":"B33","x":20,"y":0.002},{"s":"B33","x":33,"y":0.0022},{"s":"B33","x":36,"y":0.005},{"s":"B33","x":38,"y":0.012},{"s":"B33","x":39,"y":0.02},{"s":"B33","x":40,"y":0.025},{"s":"B33","x":41,"y":0.022},{"s":"B33","x":42,"y":0.016},{"s":"B33","x":44,"y":0.012},{"s":"B33","x":47,"y":0.0095},{"s":"B33","x":50,"y":0.0075},{"s":"B33","x":53,"y":0.0085},{"s":"B33","x":55,"y":0.016},{"s":"B33","x":56,"y":0.023},{"s":"B33","x":57,"y":0.037},{"s":"B33","x":58,"y":0.066},{"s":"B33","x":59,"y":0.117},{"s":"B33","x":59.5,"y":0.153},{"s":"B33","x":60,"y":0.178},

      {"s":"B34","x":0,"y":0.041},{"s":"B34","x":1,"y":0.042},{"s":"B34","x":2,"y":0.034},{"s":"B34","x":3,"y":0.0235},{"s":"B34","x":4,"y":0.0147},{"s":"B34","x":5,"y":0.0092},{"s":"B34","x":7,"y":0.0052},{"s":"B34","x":10,"y":0.0033},{"s":"B34","x":20,"y":0.002},{"s":"B34","x":33,"y":0.0022},{"s":"B34","x":36,"y":0.0042},{"s":"B34","x":38,"y":0.01},{"s":"B34","x":39,"y":0.016},{"s":"B34","x":40,"y":0.019},{"s":"B34","x":41,"y":0.017},{"s":"B34","x":42,"y":0.014},{"s":"B34","x":44,"y":0.0105},{"s":"B34","x":47,"y":0.0088},{"s":"B34","x":50,"y":0.0068},{"s":"B34","x":53,"y":0.0088},{"s":"B34","x":55,"y":0.019},{"s":"B34","x":56,"y":0.027},{"s":"B34","x":57,"y":0.037},{"s":"B34","x":58,"y":0.052},{"s":"B34","x":59,"y":0.071},{"s":"B34","x":59.5,"y":0.079},{"s":"B34","x":60,"y":0.086},

      {"s":"B35","x":0,"y":0.044},{"s":"B35","x":1,"y":0.045},{"s":"B35","x":2,"y":0.037},{"s":"B35","x":3,"y":0.025},{"s":"B35","x":4,"y":0.016},{"s":"B35","x":5,"y":0.01},{"s":"B35","x":7,"y":0.0055},{"s":"B35","x":10,"y":0.0035},{"s":"B35","x":20,"y":0.0021},{"s":"B35","x":33,"y":0.0022},{"s":"B35","x":36,"y":0.0047},{"s":"B35","x":38,"y":0.0115},{"s":"B35","x":39,"y":0.019},{"s":"B35","x":40,"y":0.023},{"s":"B35","x":41,"y":0.02},{"s":"B35","x":42,"y":0.0155},{"s":"B35","x":44,"y":0.0115},{"s":"B35","x":47,"y":0.0092},{"s":"B35","x":50,"y":0.007},{"s":"B35","x":53,"y":0.009},{"s":"B35","x":55,"y":0.018},{"s":"B35","x":56,"y":0.025},{"s":"B35","x":57,"y":0.035},{"s":"B35","x":58,"y":0.048},{"s":"B35","x":59,"y":0.066},{"s":"B35","x":59.5,"y":0.074},{"s":"B35","x":60,"y":0.08},

      {"s":"B36","x":0,"y":0.035},{"s":"B36","x":1,"y":0.036},{"s":"B36","x":2,"y":0.0295},{"s":"B36","x":3,"y":0.02},{"s":"B36","x":4,"y":0.0126},{"s":"B36","x":5,"y":0.0079},{"s":"B36","x":7,"y":0.005},{"s":"B36","x":10,"y":0.0032},{"s":"B36","x":20,"y":0.002},{"s":"B36","x":33,"y":0.0022},{"s":"B36","x":36,"y":0.0045},{"s":"B36","x":38,"y":0.011},{"s":"B36","x":39,"y":0.017},{"s":"B36","x":40,"y":0.021},{"s":"B36","x":41,"y":0.019},{"s":"B36","x":42,"y":0.015},{"s":"B36","x":44,"y":0.011},{"s":"B36","x":47,"y":0.009},{"s":"B36","x":50,"y":0.007},{"s":"B36","x":53,"y":0.008},{"s":"B36","x":55,"y":0.0155},{"s":"B36","x":56,"y":0.0225},{"s":"B36","x":57,"y":0.036},{"s":"B36","x":58,"y":0.064},{"s":"B36","x":59,"y":0.114},{"s":"B36","x":59.5,"y":0.149},{"s":"B36","x":60,"y":0.173},

      {"s":"B37","x":0,"y":0.042},{"s":"B37","x":1,"y":0.043},{"s":"B37","x":2,"y":0.035},{"s":"B37","x":3,"y":0.024},{"s":"B37","x":4,"y":0.015},{"s":"B37","x":5,"y":0.0095},{"s":"B37","x":7,"y":0.0054},{"s":"B37","x":10,"y":0.0034},{"s":"B37","x":20,"y":0.002},{"s":"B37","x":33,"y":0.0022},{"s":"B37","x":36,"y":0.0048},{"s":"B37","x":38,"y":0.012},{"s":"B37","x":39,"y":0.0195},{"s":"B37","x":40,"y":0.024},{"s":"B37","x":41,"y":0.021},{"s":"B37","x":42,"y":0.016},{"s":"B37","x":44,"y":0.0115},{"s":"B37","x":47,"y":0.0093},{"s":"B37","x":50,"y":0.0072},{"s":"B37","x":53,"y":0.009},{"s":"B37","x":55,"y":0.022},{"s":"B37","x":56,"y":0.031},{"s":"B37","x":57,"y":0.043},{"s":"B37","x":58,"y":0.06},{"s":"B37","x":59,"y":0.082},{"s":"B37","x":59.5,"y":0.092},{"s":"B37","x":60,"y":0.1},

      {"s":"B38","x":0,"y":0.046},{"s":"B38","x":1,"y":0.047},{"s":"B38","x":2,"y":0.0385},{"s":"B38","x":3,"y":0.026},{"s":"B38","x":4,"y":0.0165},{"s":"B38","x":5,"y":0.0103},{"s":"B38","x":7,"y":0.0056},{"s":"B38","x":10,"y":0.0035},{"s":"B38","x":20,"y":0.0021},{"s":"B38","x":33,"y":0.0023},{"s":"B38","x":36,"y":0.005},{"s":"B38","x":38,"y":0.0125},{"s":"B38","x":39,"y":0.021},{"s":"B38","x":40,"y":0.026},{"s":"B38","x":41,"y":0.0225},{"s":"B38","x":42,"y":0.017},{"s":"B38","x":44,"y":0.012},{"s":"B38","x":47,"y":0.0095},{"s":"B38","x":50,"y":0.0073},{"s":"B38","x":53,"y":0.009},{"s":"B38","x":55,"y":0.0168},{"s":"B38","x":56,"y":0.0232},{"s":"B38","x":57,"y":0.0321},{"s":"B38","x":58,"y":0.0444},{"s":"B38","x":59,"y":0.0607},{"s":"B38","x":59.5,"y":0.068},{"s":"B38","x":60,"y":0.074},

      {"s":"B39","x":0,"y":0.043},{"s":"B39","x":1,"y":0.044},{"s":"B39","x":2,"y":0.036},{"s":"B39","x":3,"y":0.0245},{"s":"B39","x":4,"y":0.0154},{"s":"B39","x":5,"y":0.0097},{"s":"B39","x":7,"y":0.0055},{"s":"B39","x":10,"y":0.0034},{"s":"B39","x":20,"y":0.002},{"s":"B39","x":33,"y":0.0022},{"s":"B39","x":36,"y":0.0046},{"s":"B39","x":38,"y":0.0112},{"s":"B39","x":39,"y":0.018},{"s":"B39","x":40,"y":0.022},{"s":"B39","x":41,"y":0.0195},{"s":"B39","x":42,"y":0.015},{"s":"B39","x":44,"y":0.011},{"s":"B39","x":47,"y":0.009},{"s":"B39","x":50,"y":0.007},{"s":"B39","x":53,"y":0.0085},{"s":"B39","x":55,"y":0.0158},{"s":"B39","x":56,"y":0.0217},{"s":"B39","x":57,"y":0.03},{"s":"B39","x":58,"y":0.0414},{"s":"B39","x":59,"y":0.0566},{"s":"B39","x":59.5,"y":0.0635},{"s":"B39","x":60,"y":0.069},

      {"s":"B40","x":0,"y":0.04},{"s":"B40","x":1,"y":0.041},{"s":"B40","x":2,"y":0.0336},{"s":"B40","x":3,"y":0.023},{"s":"B40","x":4,"y":0.0144},{"s":"B40","x":5,"y":0.009},{"s":"B40","x":7,"y":0.0052},{"s":"B40","x":10,"y":0.0033},{"s":"B40","x":20,"y":0.002},{"s":"B40","x":33,"y":0.0022},{"s":"B40","x":36,"y":0.0047},{"s":"B40","x":38,"y":0.0115},{"s":"B40","x":39,"y":0.0185},{"s":"B40","x":40,"y":0.023},{"s":"B40","x":41,"y":0.02},{"s":"B40","x":42,"y":0.0155},{"s":"B40","x":44,"y":0.0113},{"s":"B40","x":47,"y":0.0092},{"s":"B40","x":50,"y":0.0071},{"s":"B40","x":53,"y":0.0082},{"s":"B40","x":55,"y":0.0146},{"s":"B40","x":56,"y":0.021},{"s":"B40","x":57,"y":0.034},{"s":"B40","x":58,"y":0.06},{"s":"B40","x":59,"y":0.107},{"s":"B40","x":59.5,"y":0.139},{"s":"B40","x":60,"y":0.162}
    ]
  },
  "layer": [
    {
      "mark": {"type": "point", "opacity": 0},
      "encoding": {
        "x": {
          "field": "x",
          "type": "quantitative",
          "scale": {"domain": [-3, 63], "nice": false, "zero": false},
          "axis": {
            "orient": "top",
            "values": [10, 30, 50],
            "grid": true,
            "gridColor": "#EBEBEB",
            "gridWidth": 1.4,
            "labels": false,
            "ticks": false,
            "domain": false,
            "title": null,
            "minExtent": 0,
            "maxExtent": 0
          }
        },
        "y": {
          "field": "y",
          "type": "quantitative",
          "scale": {"domain": [-0.0256, 0.5376], "nice": false, "zero": false},
          "axis": {
            "orient": "right",
            "values": [0.05, 0.15, 0.25, 0.35, 0.45],
            "grid": true,
            "gridColor": "#EBEBEB",
            "gridWidth": 1.4,
            "labels": false,
            "ticks": false,
            "domain": false,
            "title": null,
            "minExtent": 0,
            "maxExtent": 0
          }
        }
      }
    },
    {
      "mark": {"type": "line", "interpolate": "monotone", "strokeWidth": 4.2},
      "encoding": {
        "x": {
          "field": "x",
          "type": "quantitative",
          "scale": {"domain": [-3, 63], "nice": false, "zero": false},
          "axis": {
            "orient": "bottom",
            "values": [0, 20, 40, 60],
            "format": "d",
            "grid": true,
            "gridColor": "#EBEBEB",
            "gridWidth": 2.8,
            "domain": false,
            "tickColor": "#333333",
            "tickWidth": 2,
            "tickSize": 7.3,
            "labelFont": "Liberation Sans",
            "labelFontSize": 23.2,
            "labelColor": "#4D4D4D",
            "labelPadding": 6,
            "title": "MAPQ score",
            "titleFont": "Liberation Sans",
            "titleFontSize": 29.3,
            "titleFontWeight": "normal",
            "titleColor": "black",
            "titlePadding": 4
          }
        },
        "y": {
          "field": "y",
          "type": "quantitative",
          "scale": {"domain": [-0.0256, 0.5376], "nice": false, "zero": false},
          "axis": {
            "orient": "left",
            "values": [0, 0.1, 0.2, 0.3, 0.4, 0.5],
            "format": ".1f",
            "grid": true,
            "gridColor": "#EBEBEB",
            "gridWidth": 2.8,
            "domain": false,
            "tickColor": "#333333",
            "tickWidth": 2,
            "tickSize": 7.3,
            "labelFont": "Liberation Sans",
            "labelFontSize": 23.2,
            "labelColor": "#4D4D4D",
            "labelPadding": 6,
            "title": "Density",
            "titleFont": "Liberation Sans",
            "titleFontSize": 29.3,
            "titleFontWeight": "normal",
            "titleColor": "black",
            "titlePadding": 9
          }
        },
        "color": {
          "field": "s",
          "type": "nominal",
          "legend": null,
          "scale": {
            "domain": ["B01","B02","B03","B04","B05","B06","B07","B08","B09","B10","B11","B12","B13","B14","B15","B16","B17","B18","B19","B20","B21","B22","B23","B24","B25","B26","B27","B28","B29","B30","B31","B32","B33","B34","B35","B36","B37","B38","B39","B40"],
            "range": ["#F8766D","#F37B59","#EC823C","#E38900","#D89000","#CD9600","#C09B00","#B39F00","#A3A500","#92AA00","#7CAE00","#60B200","#39B600","#00B938","#00BC51","#00BE67","#00BF7D","#00C08E","#00C19F","#00C1B0","#00BFC4","#00BDD3","#00BAE0","#00B5EC","#00B0F6","#00A9FF","#619CFF","#8494FF","#9590FF","#AF87FF","#C77CFF","#D973FC","#E76BF3","#F265E7","#F962DC","#FF61CC","#FF62BC","#FF65AB","#FF6A98","#FC7080"]
          }
        }
      }
    }
  ],
  "resolve": {"axis": {"x": "independent", "y": "independent"}}
}
